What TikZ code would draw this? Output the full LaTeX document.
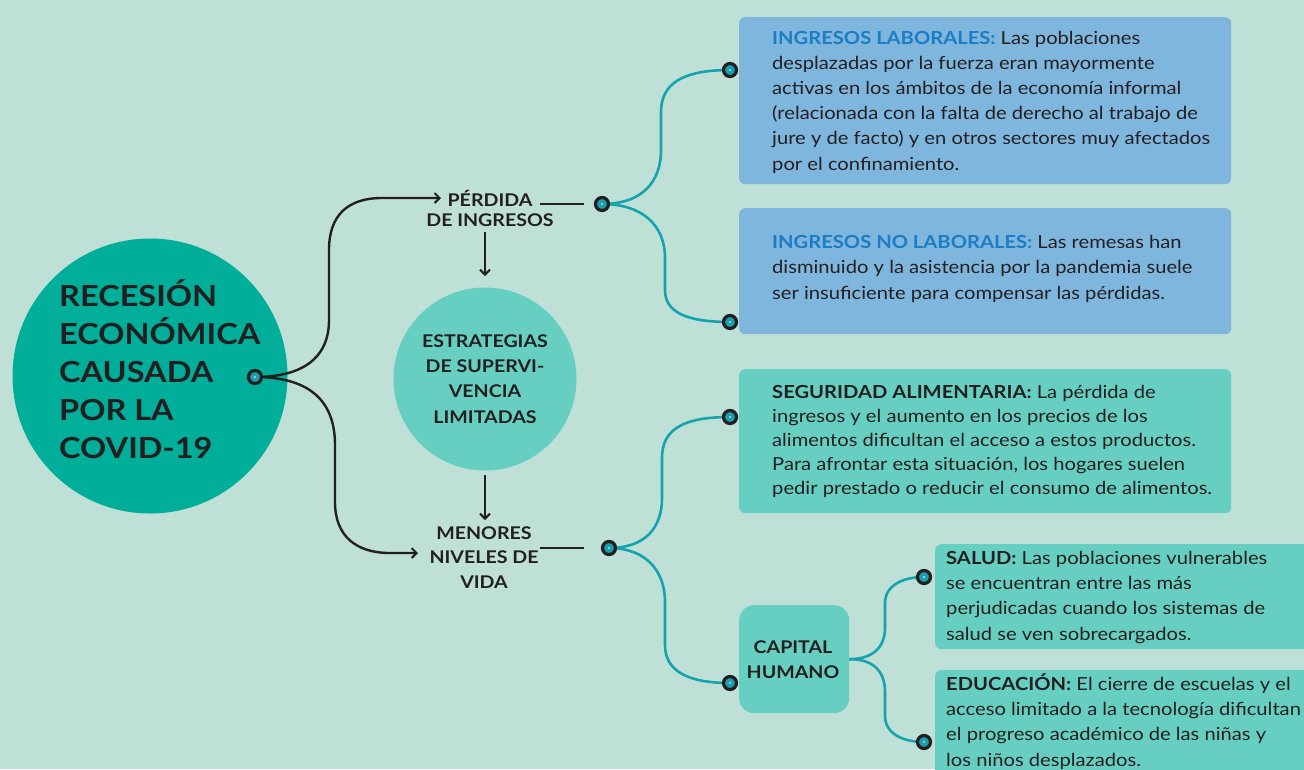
\documentclass[tikz,border=0pt]{standalone}
\usepackage{fontspec}
\setmainfont{Lato}[FakeStretch=1.12]
\usetikzlibrary{arrows.meta}
\definecolor{bgc}{HTML}{BFE0D7}
\definecolor{bigc}{HTML}{00AE99}
\definecolor{midc}{HTML}{67CFC1}
\definecolor{blueb}{HTML}{7FB6DE}
\definecolor{headblue}{HTML}{1B7DC3}
\definecolor{linec}{HTML}{15A3AE}
\definecolor{dotc}{HTML}{1A9FAF}
\definecolor{darkc}{HTML}{231F20}
\pgfdeclarelayer{front}
\pgfsetlayers{main,front}
\begin{document}
\begin{tikzpicture}[x=1pt,y=-1pt,
  every node/.style={text=darkc},
  dotnode/.style={circle,draw=darkc,line width=3.2pt,fill=dotc,inner sep=0pt,minimum size=13pt,
    path picture={\fill[white] (path picture bounding box.center) circle (0.9pt);}},
  boxnode/.style={rectangle,rounded corners=6pt,anchor=north west,inner sep=0pt},
  bodytext/.style={anchor=base west,align=left,inner sep=0pt,font=\fontsize{18}{25.2}\selectfont},
  smallhead/.style={anchor=base,align=center,inner sep=0pt},
  blk/.style={draw=darkc,line width=2.4pt},
  blkarrow/.style={blk,-{Straight Barb[length=5pt,width=10pt,line width=2pt]}},
  teal/.style={draw=linec,line width=2.6pt}
]
\clip (0,0) rectangle (1304,769);
\fill[bgc] (0,0) rectangle (1304,769);

% boxes
\node[boxnode,fill=blueb,minimum width=492pt,minimum height=167pt] (box1) at (739,17) {};
\node[boxnode,fill=blueb,minimum width=492pt,minimum height=126pt] (box2) at (739,208) {};
\node[boxnode,fill=midc,minimum width=492pt,minimum height=144pt] (box3) at (739,369) {};
\node[boxnode,fill=midc,rounded corners=15pt,minimum width=110pt,minimum height=108pt] (cap) at (739,605) {};
\node[boxnode,fill=midc,minimum width=420pt,minimum height=105pt] (box4) at (935,544) {};
\node[boxnode,fill=midc,minimum width=420pt,minimum height=140pt] (box5) at (935,670) {};

% circles
\node[circle,fill=bigc,minimum size=275pt,inner sep=0pt] (mainc) at (150,376) {};
\node[circle,fill=midc,minimum size=183pt,inner sep=0pt] (estc) at (485,379) {};

% texts (anchor base = last line baseline)
\node[anchor=base west,align=left,inner sep=0pt,font=\bfseries\fontsize{29}{38}\selectfont] (maintxt) at (59,458)
  {RECESIÓN\\ECONÓMICA\\CAUSADA\\POR LA\\COVID-19};
\node[smallhead,font=\bfseries\fontsize{17.5}{20}\selectfont] (perd) at (490,226) {PÉRDIDA\\DE INGRESOS};
\node[smallhead,font=\bfseries\fontsize{17.5}{25.3}\selectfont] (esttxt) at (485,423) {ESTRATEGIAS\\DE SUPERVI-\\VENCIA\\LIMITADAS};
\node[smallhead,font=\bfseries\fontsize{17.5}{24.5}\selectfont] (menores) at (484,588) {MENORES\\NIVELES DE\\VIDA};
\node[smallhead,font=\bfseries\fontsize{17.5}{25}\selectfont] (captxt) at (793,678) {CAPITAL\\HUMANO};

\node[bodytext] (t1) at (772,170) {{\bfseries\color{headblue}INGRESOS LABORALES:} Las poblaciones\\desplazadas por la fuerza eran mayormente\\activas en los ámbitos de la economía informal\\(relacionada con la falta de derecho al trabajo de\\jure y de facto) y en otros sectores muy afectados\\por el confinamiento.};
\node[bodytext] (t2) at (772,299) {{\bfseries\color{headblue}INGRESOS NO LABORALES:} Las remesas han\\disminuido y la asistencia por la pandemia suele\\ser insuficiente para compensar las pérdidas.};
\node[bodytext,font=\fontsize{18}{24}\selectfont] (t3) at (772,494) {\textbf{SEGURIDAD ALIMENTARIA:} La pérdida de\\ingresos y el aumento en los precios de los\\alimentos dificultan el acceso a estos productos.\\Para afrontar esta situación, los hogares suelen\\pedir prestado o reducir el consumo de alimentos.};
\node[bodytext,font=\fontsize{18}{25.3}\selectfont] (t4) at (946,640) {\textbf{SALUD:} Las poblaciones vulnerables\\se encuentran entre las más\\perjudicadas cuando los sistemas de\\salud se ven sobrecargados.};
\node[bodytext,font=\fontsize{18}{25.3}\selectfont] (t5) at (946,766) {\textbf{EDUCACIÓN:} El cierre de escuelas y el\\acceso limitado a la tecnología dificultan\\el progreso académico de las niñas y\\los niños desplazados.};

% dots (front layer)
\begin{pgfonlayer}{front}
\node[dotnode] (d0) at (255,377) {};
\node[dotnode] (p1) at (602,204) {};
\node[dotnode] (p2) at (609,548) {};
\node[dotnode] (q1) at (730,70) {};
\node[dotnode] (q2) at (730,322) {};
\node[dotnode] (s1) at (730,417) {};
\node[dotnode] (s2) at (730,683) {};
\node[dotnode] (sa) at (924,577) {};
\node[dotnode] (ed) at (924,742) {};
\end{pgfonlayer}

% coordinates for free ends
\coordinate (pin1) at (441,198);
\coordinate (pin2) at (418,553);
\coordinate (l1a) at (540,204);
\coordinate (l1b) at (584,204);
\coordinate (l2a) at (540,548);
\coordinate (l2b) at (584,548);
\coordinate (a1a) at (485,232);
\coordinate (a1b) at (485,276);
\coordinate (a2a) at (485,475);
\coordinate (a2b) at (485,520);

% black connectors
\draw[blkarrow] (d0.center) .. controls (300,377) and (329,360) .. (329,320) -- (329,250)
   .. controls (329,215) and (348,198) .. (382,198) -- (pin1);
\draw[blkarrow] (d0.center) .. controls (305,377) and (335,397) .. (335,445) -- (335,502)
   .. controls (335,536) and (356,553) .. (390,553) -- (pin2);
\draw[blk] (l1a) -- (l1b);
\draw[blk] (l2a) -- (l2b);
\draw[blkarrow] (a1a) -- (a1b);
\draw[blkarrow] (a2a) -- (a2b);

% teal connectors
\draw[teal] (p1.center) .. controls (642,204) and (661,182) .. (661,150) -- (661,112)
   .. controls (661,84) and (682,70) .. (q1.center);
\draw[teal] (p1.center) .. controls (642,204) and (665,225) .. (665,258) -- (665,290)
   .. controls (665,312) and (686,322) .. (q2.center);
\draw[teal] (p2.center) .. controls (645,548) and (662,528) .. (662,498) -- (662,458)
   .. controls (662,430) and (682,417) .. (s1.center);
\draw[teal] (p2.center) .. controls (645,548) and (665,570) .. (665,602) -- (665,645)
   .. controls (665,670) and (686,683) .. (s2.center);
\draw[teal] (cap.east) .. controls (872,659) and (885,648) .. (885,628) -- (885,603)
   .. controls (885,586) and (902,577) .. (sa.center);
\draw[teal] (cap.east) .. controls (872,659) and (885,670) .. (885,692) -- (885,716)
   .. controls (885,733) and (902,742) .. (ed.center);
\end{tikzpicture}
\end{document}
